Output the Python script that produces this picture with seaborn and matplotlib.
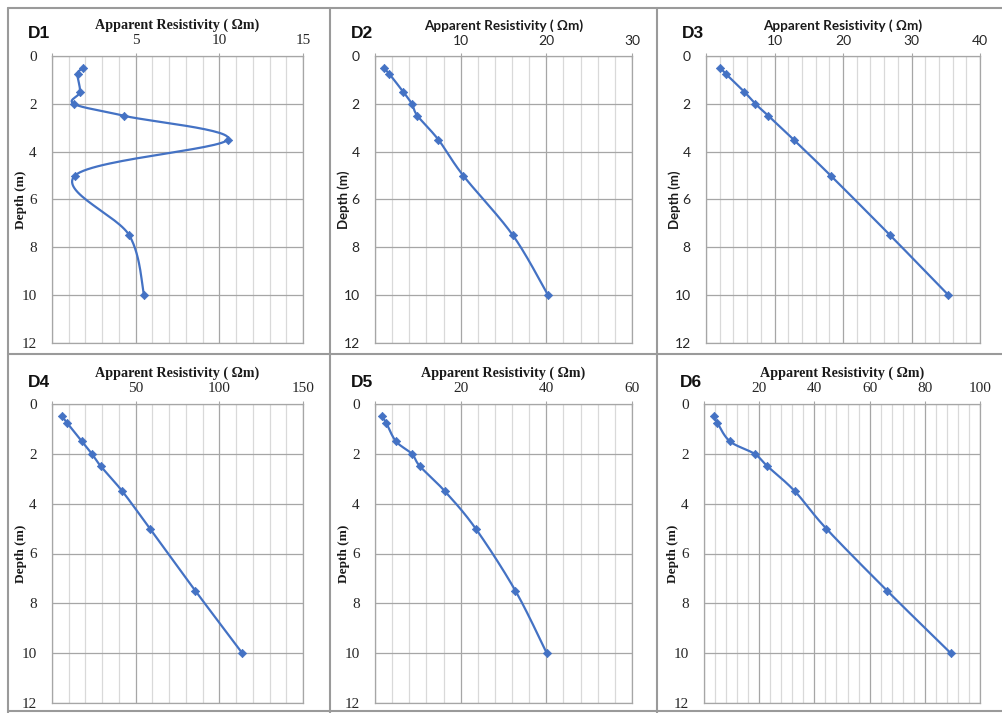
import numpy as np
import pandas as pd
import matplotlib
matplotlib.use("Agg")
import matplotlib.pyplot as plt
import seaborn as sns
from matplotlib.lines import Line2D
from matplotlib.ticker import MultipleLocator, FuncFormatter

# Sounding depths (m) shared by all six profiles
depth = [0.5, 0.75, 1.5, 2.0, 2.5, 3.5, 5.0, 7.5, 10.0]

# Apparent resistivity (ohm-m) per station
d1 = [1.87, 1.53, 1.67, 1.31, 4.3, 10.5, 1.37, 4.62, 5.5]
d2 = [1.05, 1.67, 3.3, 4.3, 4.96, 7.4, 10.3, 16.1, 20.2]
d3 = [2.1, 2.9, 5.6, 7.2, 9.1, 12.8, 18.2, 26.9, 35.4]
d4 = [6.0, 8.9, 17.9, 23.8, 29.2, 42.0, 58.5, 85.7, 113.7]
d5 = [1.7, 2.6, 4.9, 8.6, 10.5, 16.3, 23.5, 32.8, 40.1]
d6 = [3.6, 4.8, 9.4, 18.3, 23.0, 32.9, 44.3, 66.4, 89.4]

stations = ["D1", "D2", "D3", "D4", "D5", "D6"]
profiles = [d1, d2, d3, d4, d5, d6]
x_max = [15, 30, 40, 150, 60, 100]
x_major = [5, 10, 10, 50, 20, 20]
x_minor = [1, 2, 2, 10, 4, 4]
serif_panel = [True, False, False, True, True, True]

# Axes boxes in pixels: left, right, top, bottom
W, H = 1002, 713
boxes = [
    (52, 303, 56, 343),
    (375, 632, 56, 343),
    (706, 980, 56, 343),
    (52, 303, 404, 703),
    (375, 632, 404, 703),
    (704, 980, 404, 703),
]

sns.set_style("white")
plt.rcParams["font.family"] = ["Liberation Serif", "DejaVu Serif"]

BLUE = "#4472C4"
MAJOR_GRID = "#a6a6a6"
MINOR_GRID = "#d9d9d9"


def smooth_path(xs, ys, sx, sy, n=30):
    """Catmull-Rom style Bezier smoothing evaluated in screen proportions."""
    p = np.column_stack([np.asarray(xs) * sx, np.asarray(ys) * sy])
    pts = np.vstack([p[0], p, p[-1]])
    out = []
    t = np.linspace(0, 1, n)[:, None]
    for i in range(1, len(pts) - 2):
        p0, p1, p2, p3 = pts[i - 1], pts[i], pts[i + 1], pts[i + 2]
        b1 = p1 + (p2 - p0) / 6.0
        b2 = p2 - (p3 - p1) / 6.0
        seg = ((1 - t) ** 3) * p1 + 3 * ((1 - t) ** 2) * t * b1 + 3 * (1 - t) * t ** 2 * b2 + t ** 3 * p2
        out.append(seg if i == 1 else seg[1:])
    out = np.vstack(out)
    return out[:, 0] / sx, out[:, 1] / sy


fig = plt.figure(figsize=(W / 100, H / 100), dpi=100)

for k, (name, vals) in enumerate(zip(stations, profiles)):
    l, r, t, b = boxes[k]
    ax = fig.add_axes([l / W, 1 - b / H, (r - l) / W, (b - t) / H])
    if serif_panel[k]:
        fam = ["Liberation Serif", "DejaVu Serif"]
        tick_size, title_size = 11, 10.2
    else:
        fam = ["Lato", "DejaVu Sans"]
        tick_size, title_size = 10, 9.7

    sx = (r - l) / x_max[k]
    sy = (b - t) / 12.0
    cx, cy = smooth_path(vals, depth, sx, sy)
    curve = pd.DataFrame({"rho": cx, "depth": cy})
    pts = pd.DataFrame({"rho": vals, "depth": depth})

    sns.lineplot(data=curve, x="rho", y="depth", sort=False, estimator=None,
                 color=BLUE, lw=1.6, ax=ax, zorder=3)
    sns.scatterplot(data=pts, x="rho", y="depth", marker="D", s=18,
                    color=BLUE, edgecolor=BLUE, linewidth=0.5, ax=ax, zorder=4)

    ax.set_xlim(0, x_max[k])
    ax.set_ylim(12, 0)
    ax.xaxis.set_major_locator(MultipleLocator(x_major[k]))
    ax.xaxis.set_minor_locator(MultipleLocator(x_minor[k]))
    ax.yaxis.set_major_locator(MultipleLocator(2))
    ax.xaxis.set_major_formatter(FuncFormatter(lambda v, p: "" if v == 0 else f"{v:g}"))

    ax.xaxis.tick_top()
    ax.xaxis.set_label_position("top")
    ax.grid(which="major", axis="both", color=MAJOR_GRID, lw=0.9, zorder=0)
    ax.grid(which="minor", axis="x", color=MINOR_GRID, lw=0.9, zorder=0)
    ax.set_axisbelow(True)
    for sp in ax.spines.values():
        sp.set_color(MAJOR_GRID)
        sp.set_linewidth(0.9)

    ax.tick_params(axis="y", which="major", direction="inout", length=6,
                   color=MAJOR_GRID, pad=8, labelsize=tick_size, labelcolor="#262626")
    ax.tick_params(axis="x", which="major", direction="inout", length=5,
                   color=MAJOR_GRID, pad=4, labelsize=tick_size, labelcolor="#262626")
    ax.tick_params(axis="x", which="minor", length=0)
    for lab in ax.get_xticklabels() + ax.get_yticklabels():
        lab.set_family(fam)

    ax.set_xlabel("Apparent Resistivity ( Ωm)", family=fam, fontweight="bold",
                  fontsize=title_size, color="#1a1a1a", labelpad=4)
    ax.set_ylabel("Depth (m)", family=fam, fontweight="bold", fontsize=9.5,
                  color="#1a1a1a")
    ax.yaxis.set_label_coords(-25 / (r - l), 0.5)

    fig.text((l - 24) / W, 1 - (t - 22) / H, name, family=["Liberation Sans", "DejaVu Sans"],
             fontweight="bold", fontsize=12.5, ha="left", va="center", color="#111111")

# Panel frame lines
frame = "#9a9a9a"
for (x0, y0, x1, y1) in [
    (8, 8, 1002, 8),
    (8, 8, 8, 713),
    (330, 8, 330, 713),
    (657, 8, 657, 713),
    (8, 354, 1002, 354),
    (8, 711, 1002, 711),
]:
    fig.add_artist(Line2D([x0 / W, x1 / W], [1 - y0 / H, 1 - y1 / H],
                          transform=fig.transFigure, color=frame, lw=1.5))

fig.savefig("out.png", dpi=100, facecolor="white")
